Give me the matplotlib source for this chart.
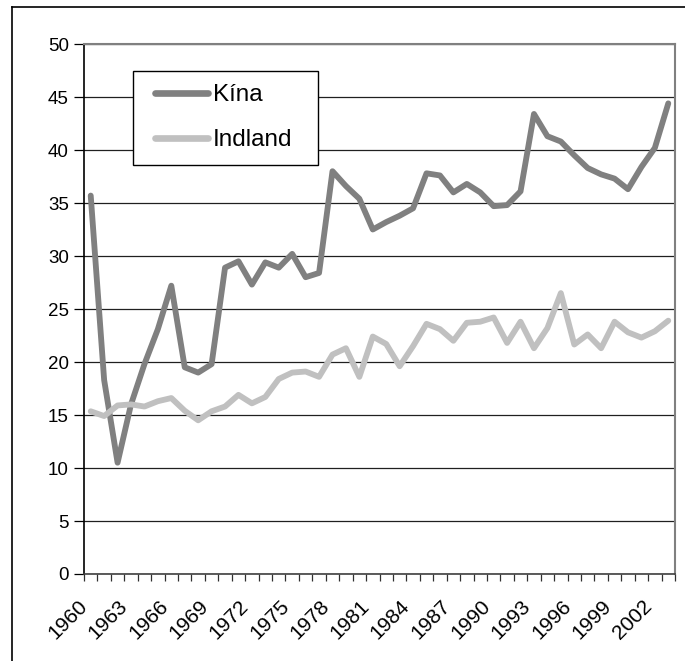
import matplotlib
matplotlib.use("Agg")
import matplotlib.pyplot as plt
from matplotlib.lines import Line2D
from matplotlib.patches import Rectangle
from matplotlib.transforms import ScaledTranslation

years = list(range(1960, 2004))
kina = [35.7, 18.3, 10.5, 16.0, 19.8, 23.1, 27.2, 19.5, 19.0, 19.8,
        28.9, 29.5, 27.3, 29.4, 28.9, 30.2, 28.0, 28.4, 38.0, 36.6,
        35.4, 32.5, 33.2, 33.8, 34.5, 37.8, 37.6, 36.0, 36.8, 36.0,
        34.7, 34.8, 36.1, 43.4, 41.3, 40.8, 39.5, 38.3, 37.7, 37.3,
        36.3, 38.4, 40.2, 44.4]
indland = [15.35, 14.9, 15.9, 16.0, 15.8, 16.3, 16.6, 15.4, 14.5, 15.35,
           15.8, 16.9, 16.1, 16.7, 18.4, 19.0, 19.1, 18.6, 20.7, 21.3,
           18.6, 22.4, 21.7, 19.6, 21.5, 23.6, 23.1, 22.0, 23.7, 23.8,
           24.2, 21.8, 23.8, 21.3, 23.2, 26.5, 21.65, 22.6, 21.3, 23.8,
           22.8, 22.3, 22.9, 23.9]
series_names = ["Kína", "Indland"]
series_colors = ["#808080", "#C0C0C0"]
yticks = list(range(0, 51, 5))

plt.rcParams['font.family'] = ['Liberation Sans', 'DejaVu Sans']

W, H = 685, 661
fig = plt.figure(figsize=(W / 100, H / 100), dpi=100)
left, right, top, bottom = 84, 675, 44, 574
ax = fig.add_axes([left / W, 1 - bottom / H, (right - left) / W, (bottom - top) / H])

def ax_x(px):
    return (px - left) / (right - left)

def ax_y(py):
    return (bottom - py) / (bottom - top)

# outer chart border (left and top visible in reference)
fig.add_artist(Line2D([12 / W, 12 / W], [0, 1 - 7 / H], color='black', lw=1.2, transform=fig.transFigure))
fig.add_artist(Line2D([12 / W, 1], [1 - 7 / H, 1 - 7 / H], color='black', lw=1.2, transform=fig.transFigure))

x = list(range(len(years)))
for vals, name, col in zip([kina, indland], series_names, series_colors):
    ax.plot(x, vals, color=col, lw=4.2, label=name, solid_joinstyle='round',
            solid_capstyle='round', zorder=3)

ax.set_ylim(0, 50)
ax.set_yticks(yticks)
ax.set_yticklabels([str(v) for v in yticks], fontsize=13.5)
ax.yaxis.grid(True, color='#202020', lw=0.9)
ax.set_axisbelow(True)

lab_idx = [i for i in x if i % 3 == 0]
ax.set_xticks(lab_idx)
ax.set_xticklabels([str(years[i]) for i in lab_idx], rotation=45, ha='right', va='top',
                   rotation_mode='anchor', fontsize=15)
ax.set_xticks([i - 0.5 for i in range(len(years) + 1)], minor=True)
ax.set_xlim(-0.5, len(years) - 0.5)
ax.tick_params(axis='x', which='major', length=0, pad=16)
ax.tick_params(axis='x', which='minor', length=5, width=0.9, color='#303030', direction='out')
ax.tick_params(axis='y', length=7, width=0.9, direction='out', pad=4)

# nudge the category labels left (after tick_params so it is not reset)
shift = ScaledTranslation(-13 / 100, 0, fig.dpi_scale_trans)
for tick in ax.xaxis.get_major_ticks():
    tick.label1.set_transform(tick.label1.get_transform() + shift)

for s in ['top', 'right']:
    ax.spines[s].set_color('#808080')
    ax.spines[s].set_linewidth(1.5)
ax.spines['left'].set_color('black')
ax.spines['left'].set_linewidth(1.2)
ax.spines['bottom'].set_color('#404040')
ax.spines['bottom'].set_linewidth(1.2)

# legend box
box = Rectangle((ax_x(133), ax_y(165)), ax_x(318) - ax_x(133), ax_y(71) - ax_y(165),
                transform=ax.transAxes, facecolor='white', edgecolor='black', lw=1.0, zorder=4)
ax.add_patch(box)
leg = ax.legend(loc='upper left', bbox_to_anchor=(ax_x(155), ax_y(84)),
                fontsize=17.5, frameon=False,
                handlelength=2.2, handletextpad=0.18, borderpad=0, labelspacing=0.95,
                borderaxespad=0)
leg.set_zorder(5)
for lh in leg.get_lines():
    lh.set_linewidth(4.8)
    lh.set_solid_capstyle('round')

fig.savefig("out.png", dpi=100)
